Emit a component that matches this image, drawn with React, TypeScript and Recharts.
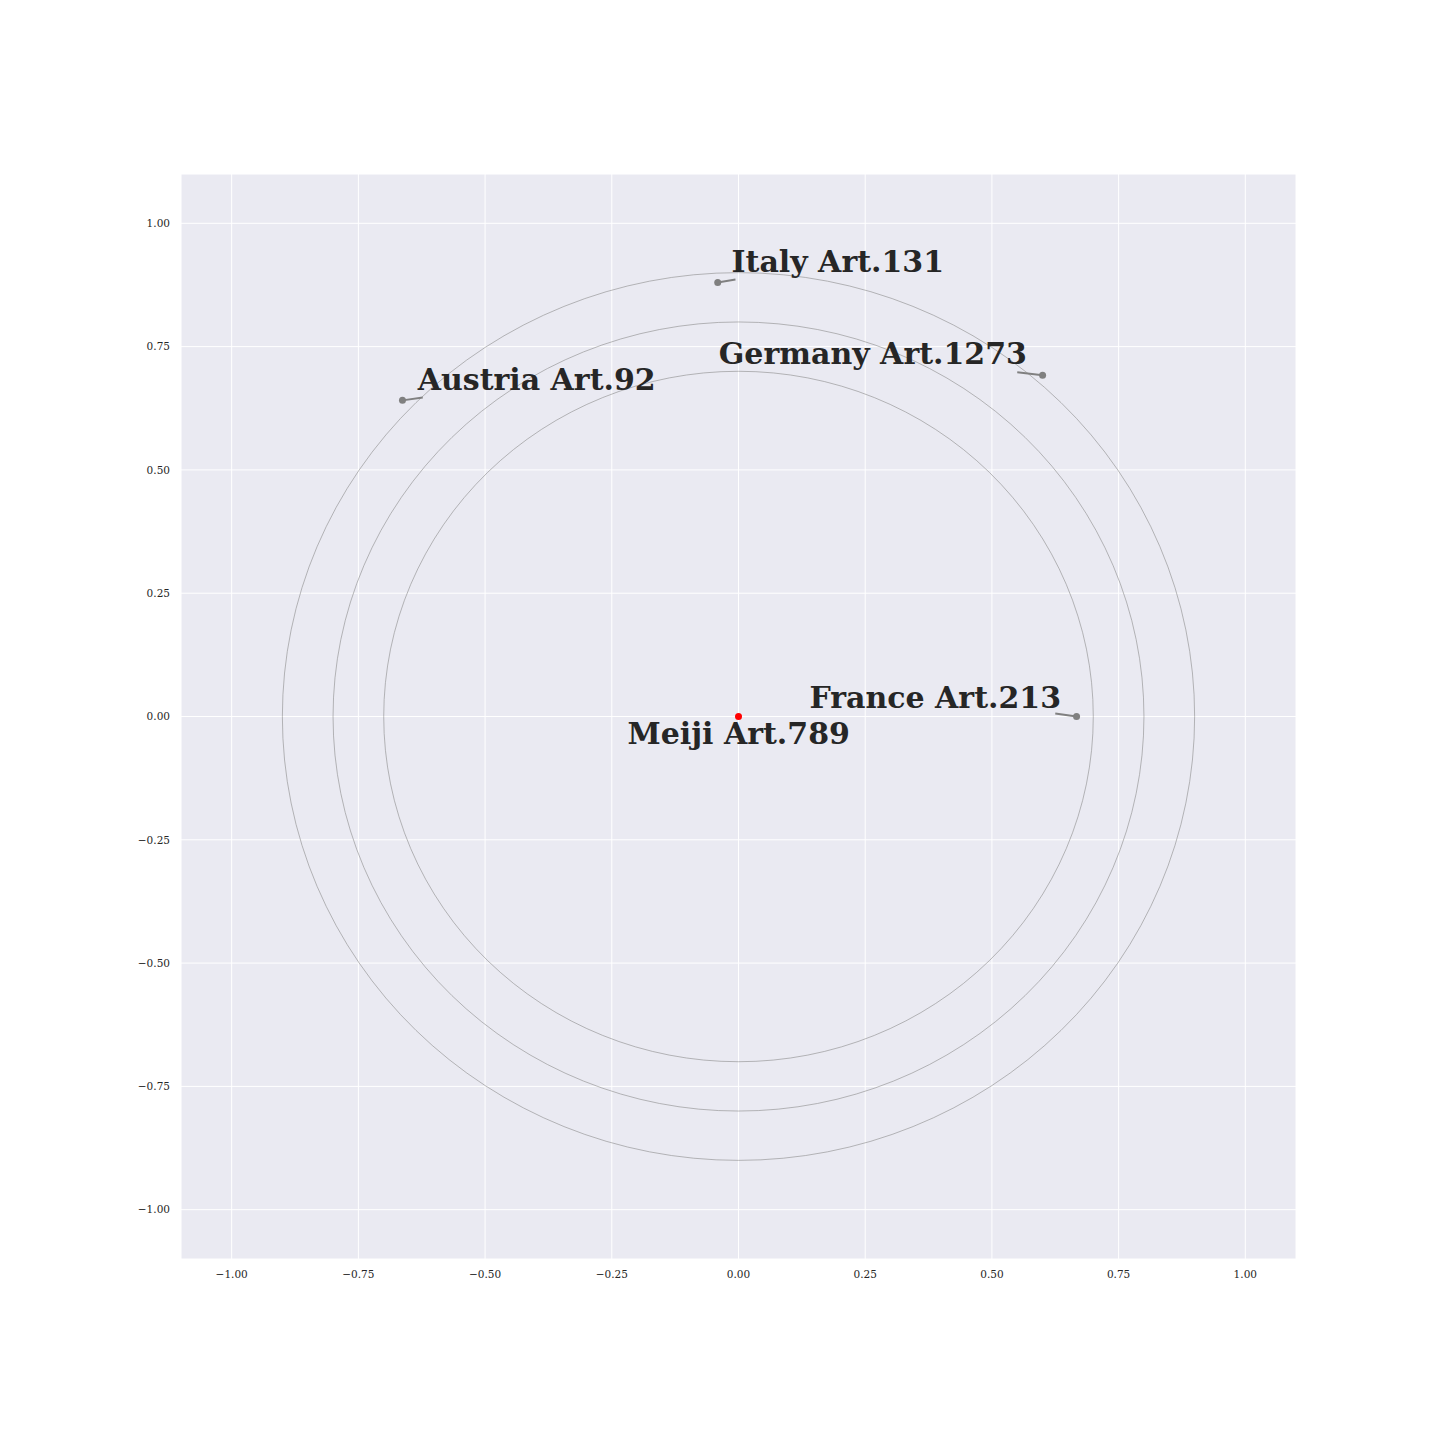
import React from 'react';
import {
  ScatterChart, Scatter, XAxis, YAxis, CartesianGrid, ReferenceArea, ReferenceLine,
} from 'recharts';

// circle radii drawn around the centre point
const ringRadii = [0.7, 0.8, 0.9];

const axisTicks = [-1, -0.75, -0.5, -0.25, 0, 0.25, 0.5, 0.75, 1];

const countries = ['Italy', 'Germany', 'Austria', 'France'];
const countryX = [-0.041, 0.6, -0.663, 0.667];
const countryY = [0.88, 0.692, 0.641, 0.0];
const articles = ['Art.131', 'Art.1273', 'Art.92', 'Art.213'];

const centerName = 'Meiji';
const centerArticle = 'Art.789';

// annotation text anchors (data coords) and where the connector meets the text
const labelX = [-0.0138, -0.039, -0.633, 0.14, -0.219];
const labelY = [0.901, 0.714, 0.663, 0.018, -0.055];
const connectorX = [-0.006, 0.55, -0.623, 0.625];
const connectorY = [0.886, 0.698, 0.647, 0.006];

const countryPoints = countries.map((c, i) => ({ name: c, x: countryX[i], y: countryY[i] }));
const centerPoint = [{ name: centerName, x: 0, y: 0 }];
const labelPoints = [...countries, centerName].map((c, i) => ({
  text: `${c} ${i < articles.length ? articles[i] : centerArticle}`,
  x: labelX[i],
  y: labelY[i],
}));

const fmt = (v: number) => (v < 0 ? '\u2212' : '') + Math.abs(v).toFixed(2);

const tickStyle = { fontSize: 10.5, fill: '#262626', fontFamily: 'DejaVu Serif' };

const Ellipse = (props: any) => {
  const { x, y, width, height } = props;
  return (
    <ellipse
      cx={x + width / 2}
      cy={y + height / 2}
      rx={width / 2}
      ry={height / 2}
      fill="none"
      stroke="#8c8c8c"
      strokeWidth={0.6}
    />
  );
};

const LabelText = (props: any) => {
  const { cx, cy, payload } = props;
  return (
    <text
      x={cx}
      y={cy}
      textAnchor="start"
      fontFamily="DejaVu Serif"
      fontWeight="bold"
      fontSize={30}
      fill="#262626"
    >
      {payload.text}
    </text>
  );
};

export default function App() {
  return (
    <div style={{ position: 'absolute', left: 0, top: 0, width: 1440, height: 1440, background: '#fff' }}>
      <ScatterChart
        width={1440}
        height={1440}
        margin={{ top: 174, right: 144, bottom: 151, left: 121 }}
      >
        <CartesianGrid fill="#EAEAF2" stroke="#ffffff" strokeWidth={1} />
        <XAxis
          type="number"
          dataKey="x"
          domain={[-1.1, 1.1]}
          ticks={axisTicks}
          tickFormatter={fmt}
          axisLine={false}
          tickLine={false}
          tickMargin={6}
          height={30}
          tick={tickStyle}
          allowDataOverflow
        />
        <YAxis
          type="number"
          dataKey="y"
          domain={[-1.1, 1.1]}
          ticks={axisTicks}
          tickFormatter={fmt}
          axisLine={false}
          tickLine={false}
          tickMargin={5}
          width={60}
          tick={tickStyle}
          allowDataOverflow
        />
        {ringRadii.map((r) => (
          <ReferenceArea key={r} x1={-r} x2={r} y1={-r} y2={r} shape={<Ellipse />} />
        ))}
        {countryPoints.map((p, i) => (
          <ReferenceLine
            key={p.name}
            segment={[{ x: p.x, y: p.y }, { x: connectorX[i], y: connectorY[i] }]}
            stroke="#808080"
            strokeWidth={2}
          />
        ))}
        <Scatter data={countryPoints} fill="#808080" isAnimationActive={false}
          shape={(p: any) => <circle cx={p.cx} cy={p.cy} r={3.5} fill="#808080" />} />
        <Scatter data={centerPoint} fill="#ff0000" isAnimationActive={false}
          shape={(p: any) => <circle cx={p.cx} cy={p.cy} r={3.5} fill="#ff0000" />} />
        <Scatter data={labelPoints} isAnimationActive={false} shape={<LabelText />} />
      </ScatterChart>
    </div>
  );
}
